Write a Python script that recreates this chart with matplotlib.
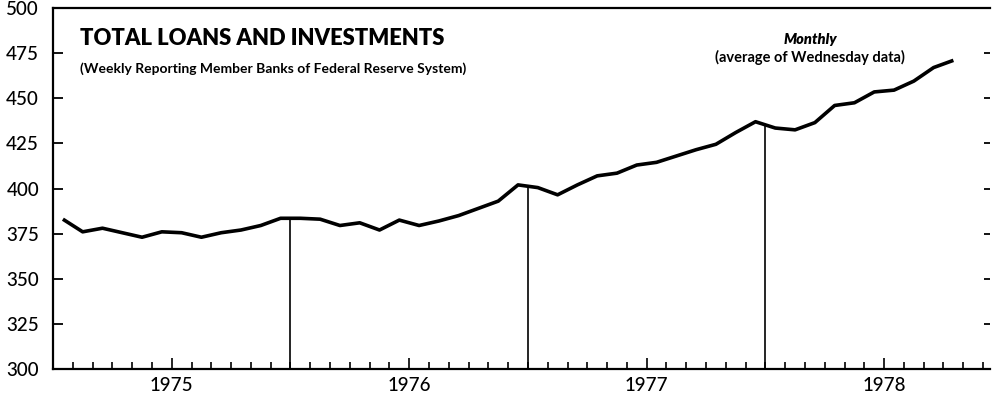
import numpy as np
import matplotlib
matplotlib.use("Agg")
import matplotlib.pyplot as plt

# monthly averages, billions of dollars, Jan 1975 - Oct 1978
v1975 = [383, 376, 378, 375.5, 373, 376, 375.5, 373, 375.5, 377, 379.5, 383.5]
v1976 = [383.5, 383, 379.5, 381, 377, 382.5, 379.5, 382, 385, 389, 393, 402]
v1977 = [400.5, 396.5, 402, 407, 408.5, 413, 414.5, 418, 421.5, 424.5, 431, 437]
v1978 = [433.5, 432.5, 436.5, 446, 447.5, 453.5, 454.5, 459.5, 467, 471]
years = ["1975", "1976", "1977", "1978"]
y_ticks = [300, 325, 350, 375, 400, 425, 450, 475, 500]

values = np.array(v1975 + v1976 + v1977 + v1978)
months = np.arange(len(values)) + 0.5  # plotted mid-month, 0 = start of Jan 1975

plt.rcParams['font.family'] = ['Lato', 'DejaVu Sans']

fig = plt.figure(figsize=(9.93, 4.0), dpi=100)
ax = fig.add_axes([53 / 993, 31 / 400, 937 / 993, 361 / 400])

ax.plot(months, values, color='black', lw=2.6, solid_joinstyle='round', solid_capstyle='butt')

# vertical separators at the start of each year, up to the line
for k in range(1, len(years)):
    xb = 12 * k
    ax.plot([xb, xb], [300, np.interp(xb, months, values)], color='black', lw=1.2)

ax.set_xlim(0, 47.35)
ax.set_ylim(300, 500)

ax.spines['right'].set_visible(False)
for s in ['left', 'bottom', 'top']:
    ax.spines[s].set_linewidth(1.6)

ax.set_yticks(y_ticks)
ax.set_yticklabels([str(t) for t in y_ticks], fontsize=13.5, fontweight='medium')
ax.tick_params(axis='y', direction='in', length=7, width=1.3, pad=10, right=True)

# month ticks, taller ones mid-year
ax.set_xticks([12 * i + 6 for i in range(len(years))])
ax.set_xticklabels(years, fontsize=13.5, fontweight='medium')
ax.set_xticks([m for m in range(1, 48) if m % 12 != 6], minor=True)
ax.tick_params(axis='x', which='major', direction='in', length=8, width=1.2, pad=6)
ax.tick_params(axis='x', which='minor', direction='in', length=5, width=1.2)

# shorter right-hand ticks
for t in ax.yaxis.get_major_ticks():
    t.tick2line.set_markersize(4)

ax.text(0.029, 0.897, "TOTAL LOANS AND INVESTMENTS", transform=ax.transAxes,
        fontsize=15.8, fontweight='heavy', ha='left', va='baseline')
ax.text(0.029, 0.82, "(Weekly Reporting Member Banks of Federal Reserve System)",
        transform=ax.transAxes, fontsize=10, fontweight='bold', ha='left', va='baseline')
ax.text(0.808, 0.9, "Monthly", transform=ax.transAxes, fontsize=10.5,
        fontweight='heavy', fontstyle='italic', ha='center', va='baseline')
ax.text(0.808, 0.85, "(average of Wednesday data)", transform=ax.transAxes,
        fontsize=10.5, fontweight='bold', ha='center', va='baseline')

fig.savefig("out.png", dpi=100)
